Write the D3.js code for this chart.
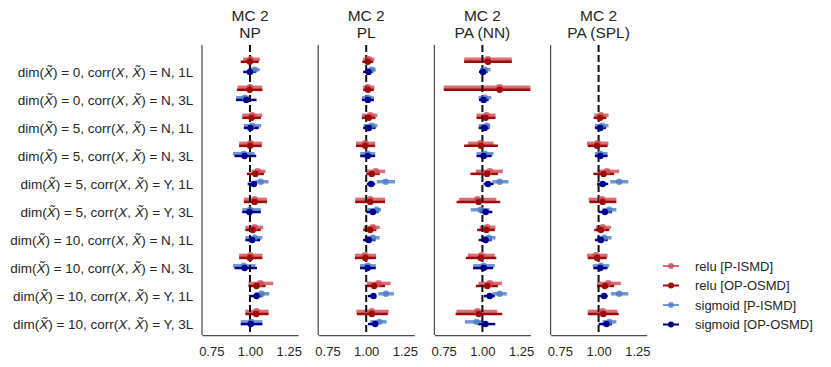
<!DOCTYPE html>
<meta charset="utf-8">
<style type="text/css">
    body { margin: 0; background: #fff; }
    svg { font-family: "Liberation Sans", Arial, sans-serif; }
    .axis .domain { stroke: #4d4d4d; stroke-width: 1.25; }
    .axis text { fill: #262626; }
</style>
<body>
<script src="https://cdn.jsdelivr.net/npm/d3@7"></script>
<script type="text/javascript">
// conditions (one row each)
var dims = [0, 0, 5, 5, 5, 5, 10, 10, 10, 10];
var corrs = ["N", "N", "N", "N", "Y", "Y", "N", "N", "Y", "Y"];
var layers = ["1L", "3L", "1L", "3L", "1L", "3L", "1L", "3L", "1L", "3L"];

var panelTitles = ["NP", "PL", "PA (NN)", "PA (SPL)"];
var seriesNames = ["relu [P-ISMD]", "relu [OP-OSMD]", "sigmoid [P-ISMD]", "sigmoid [OP-OSMD]"];
var xTicks = [0.75, 1.00, 1.25];

// [estimate, lower, upper] per row, null = not run
var npReluP = [[1.003,0.955,1.063],[1.0,0.92,1.078],[1.014,0.95,1.078],[1.003,0.93,1.078],[1.05,1.01,1.1],[1.03,0.96,1.11],[1.03,0.97,1.085],[1.003,0.93,1.08],[1.067,0.99,1.15],[1.042,0.97,1.12]];
var npReluO = [[0.999,0.94,1.056],[0.998,0.915,1.08],[1.01,0.95,1.07],[1.0,0.93,1.075],[1.035,0.98,1.09],[1.03,0.96,1.11],[1.018,0.97,1.07],[1.0,0.93,1.08],[1.042,0.99,1.1],[1.04,0.97,1.12]];
var npSigP = [[1.029,0.99,1.063],[0.967,0.91,1.003],[1.014,0.96,1.072],[0.96,0.89,1.03],[1.07,1.035,1.12],[1.0,0.95,1.07],[1.03,0.97,1.08],[0.96,0.89,1.035],[1.074,1.035,1.125],[1.008,0.94,1.08]];
var npSigO = [[0.999,0.956,1.04],[0.976,0.91,1.042],[1.003,0.96,1.056],[0.965,0.9,1.04],[1.025,0.985,1.045],[0.997,0.95,1.07],[1.014,0.97,1.065],[0.965,0.9,1.045],[1.042,0.995,1.08],[1.005,0.94,1.08]];

var plReluP = [[1.015,0.98,1.053],[1.011,0.98,1.053],[1.026,0.972,1.072],[0.994,0.934,1.058],[1.062,1.004,1.122],[1.026,0.929,1.122],[1.043,0.985,1.087],[0.994,0.927,1.064],[1.079,1.004,1.158],[1.036,0.936,1.145]];
var plReluO = [[1.01,0.975,1.045],[1.011,0.98,1.05],[1.017,0.972,1.06],[0.994,0.934,1.058],[1.036,1.0,1.087],[1.026,0.929,1.122],[1.026,0.98,1.066],[0.994,0.927,1.064],[1.051,0.994,1.122],[1.036,0.94,1.14]];
var plSigP = [[1.036,0.994,1.062],[1.011,0.972,1.05],[1.036,0.983,1.072],[1.009,0.961,1.058],[1.126,1.068,1.186],[1.068,1.009,1.096],[1.043,0.99,1.087],[1.009,0.96,1.062],[1.128,1.079,1.179],[1.085,1.026,1.132]];
var plSigO = [[1.015,0.98,1.043],[1.011,0.972,1.05],[1.017,0.98,1.06],[1.009,0.961,1.058],[1.032,1.004,1.058],[1.043,1.0,1.08],[1.017,0.98,1.06],[1.009,0.96,1.062],[1.047,1.011,1.064],[1.058,1.011,1.075]];

var nnReluP = [[1.036,0.882,1.19],[1.111,0.75,1.31],[1.026,0.962,1.085],[0.987,0.908,1.072],[1.047,0.957,1.132],[0.968,0.85,1.09],[1.032,0.983,1.085],[0.994,0.906,1.08],[1.047,0.975,1.126],[0.968,0.833,1.096]];
var nnReluO = [[1.036,0.882,1.19],[1.111,0.75,1.31],[1.021,0.962,1.085],[0.99,0.882,1.1],[1.03,0.923,1.1],[0.976,0.833,1.115],[1.026,0.966,1.08],[0.99,0.893,1.09],[1.032,0.958,1.1],[0.976,0.827,1.128]];
var nnSigP = [[1.015,0.983,1.053],[1.015,0.975,1.058],[1.028,0.976,1.05],[1.015,0.962,1.072],[1.111,1.064,1.169],[0.989,0.925,1.047],[1.041,0.994,1.085],[1.008,0.94,1.08],[1.111,1.064,1.158],[0.962,0.887,1.0]];
var nnSigO = [[1.004,0.978,1.034],[1.008,0.978,1.04],[1.015,0.976,1.045],[1.008,0.962,1.06],[1.036,1.008,1.072],[1.021,0.983,1.064],[1.021,0.976,1.06],[1.008,0.94,1.07],[1.047,1.01,1.08],[1.019,0.97,1.083]];

var splReluP = [null,null,[1.015,0.972,1.064],[0.994,0.925,1.064],[1.054,0.994,1.133],[1.022,0.936,1.115],[1.026,0.983,1.079],[0.983,0.925,1.058],[1.062,0.99,1.143],[1.026,0.93,1.122]];
var splReluO = [null,null,[1.011,0.968,1.05],[0.99,0.93,1.058],[1.032,0.966,1.1],[1.026,0.94,1.115],[1.015,0.972,1.069],[0.99,0.93,1.052],[1.041,0.99,1.1],[1.03,0.93,1.13]];
var splSigP = [null,null,[1.022,0.976,1.064],[1.011,0.976,1.058],[1.133,1.075,1.192],[1.069,1.026,1.115],[1.036,0.99,1.083],[1.015,0.962,1.069],[1.133,1.079,1.192],[1.069,1.026,1.115]];
var splSigO = [null,null,[1.011,0.976,1.047],[1.011,0.976,1.058],[1.026,0.99,1.062],[1.041,1.0,1.087],[1.015,0.976,1.058],[1.011,0.966,1.058],[1.036,1.0,1.058],[1.051,1.0,1.087]];

var panelData = [
    [npReluP, npReluO, npSigP, npSigO],
    [plReluP, plReluO, plSigP, plSigO],
    [nnReluP, nnReluO, nnSigP, nnSigO],
    [splReluP, splReluO, splSigP, splSigO]
];

// styling for the four series
var colors = ["#cf4a52", "#9e0a0a", "#4f7ec6", "#00008b"];
var barOpacity = [0.8, 1, 0.8, 1];
var barWidth = [3.5, 2.5, 3.5, 2.5];
var dotRadius = [3.4, 3.2, 3.2, 3.2];
var rowOffset = [-0.45, -0.36, -0.08, 0]; // in row units

var width = 831, height = 367;
var plotTop = 45, plotBottom = 335;
var panelLeft = 202, panelWidth = 96, panelStep = 116.2;

var svg = d3.select("body").append("svg")
    .attr("width", width)
    .attr("height", height);

var y = d3.scaleLinear().domain([-0.96, 9.39]).range([plotTop, plotBottom]);

function rowLabel(sel, i) {
    sel.append("tspan").text("dim(");
    sel.append("tspan").attr("font-style", "italic").text("X\u0303");
    sel.append("tspan").text(") = " + dims[i] + ", corr(");
    sel.append("tspan").attr("font-style", "italic").text("X");
    sel.append("tspan").text(", ");
    sel.append("tspan").attr("font-style", "italic").text("X\u0303");
    sel.append("tspan").text(") = " + corrs[i] + ", " + layers[i]);
}

panelTitles.forEach(function (title, p) {
    var x0 = panelLeft + p * panelStep;
    var x = d3.scaleLinear().domain([0.69, 1.31]).range([x0, x0 + panelWidth]);
    var g = svg.append("g");

    // bottom axis
    var xa = g.append("g")
        .attr("class", "axis")
        .attr("transform", "translate(0," + plotBottom + ")")
        .call(d3.axisBottom(x).tickValues(xTicks).tickFormat(d3.format(".2f"))
            .tickSize(0).tickPadding(11.8));
    xa.selectAll("text").attr("font-size", 13).attr("font-family", null);

    // left axis
    var ya = g.append("g")
        .attr("class", "axis")
        .attr("transform", "translate(" + x0 + ",0)")
        .call(d3.axisLeft(y).tickValues(p == 0 ? d3.range(dims.length) : [])
            .tickFormat("").tickSize(0).tickPadding(8.7));
    ya.select(".domain").attr("d", "M0," + plotTop + "V" + plotBottom);
    if (p == 0) {
        ya.selectAll(".tick text")
            .attr("font-size", 13.5)
            .attr("font-family", null)
            .each(function (d) { rowLabel(d3.select(this), d); });
    }

    // titles
    g.append("text").attr("x", x(1)).attr("y", 20.7)
        .attr("text-anchor", "middle").attr("font-size", 15.5).attr("fill", "#262626")
        .text("MC 2");
    g.append("text").attr("x", x(1)).attr("y", 38.3)
        .attr("text-anchor", "middle").attr("font-size", 15.5).attr("fill", "#262626")
        .text(title);

    var series = panelData[p];

    // error bars
    series.forEach(function (vals, s) {
        g.append("g").selectAll("line")
            .data(vals.map(function (v, i) { return v ? {v: v, i: i} : null; }).filter(Boolean))
            .join("line")
            .attr("x1", d => x(d.v[1]))
            .attr("x2", d => x(d.v[2]))
            .attr("y1", d => y(d.i + rowOffset[s]))
            .attr("y2", d => y(d.i + rowOffset[s]))
            .attr("stroke", colors[s])
            .attr("stroke-opacity", barOpacity[s])
            .attr("stroke-width", barWidth[s]);
    });

    // reference line
    g.append("line")
        .attr("x1", x(1)).attr("x2", x(1))
        .attr("y1", plotTop).attr("y2", plotBottom)
        .attr("stroke", "#111")
        .attr("stroke-width", 2)
        .attr("stroke-dasharray", "7,3");

    // point estimates
    series.forEach(function (vals, s) {
        g.append("g").selectAll("circle")
            .data(vals.map(function (v, i) { return v ? {v: v, i: i} : null; }).filter(Boolean))
            .join("circle")
            .attr("cx", d => x(d.v[0]))
            .attr("cy", d => y(d.i + rowOffset[s]))
            .attr("r", dotRadius[s])
            .attr("fill", colors[s])
            .attr("fill-opacity", barOpacity[s]);
    });
});

// legend
var legend = svg.append("g").attr("transform", "translate(663,266)");
seriesNames.forEach(function (name, s) {
    var row = legend.append("g").attr("transform", "translate(0," + (s * 19.5) + ")");
    row.append("line").attr("x1", 0).attr("x2", 16).attr("y1", 0).attr("y2", 0)
        .attr("stroke", colors[s]).attr("stroke-opacity", barOpacity[s]).attr("stroke-width", 2);
    row.append("circle").attr("cx", 8).attr("cy", 0).attr("r", 3)
        .attr("fill", colors[s]).attr("fill-opacity", barOpacity[s]);
    row.append("text").attr("x", 32).attr("y", 0).attr("dy", "0.35em")
        .attr("font-size", 13).attr("fill", "#262626").text(name);
});
</script>
</body>
